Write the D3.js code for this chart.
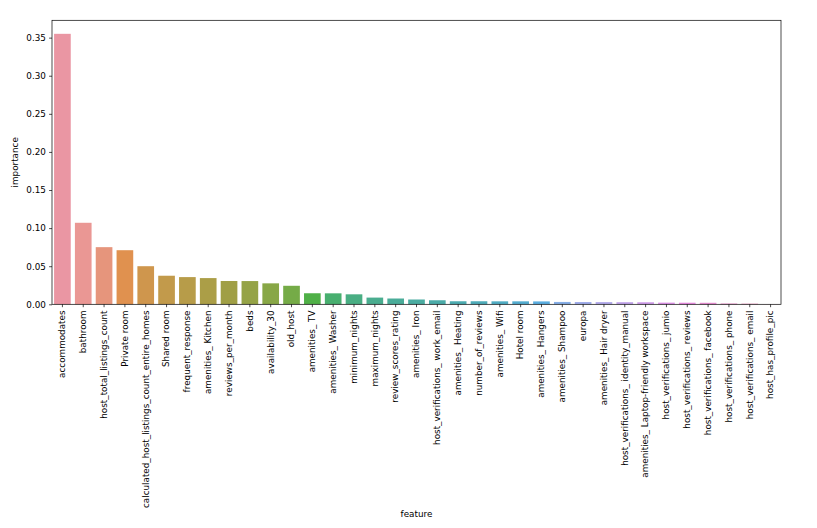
<!DOCTYPE html>
<html>
<head>
<meta charset="utf-8">
<script src="https://d3js.org/d3.v7.min.js"></script>
<style>
    body { margin: 0; background: white; }
    text { font-family: "DejaVu Sans", sans-serif; fill: #000; }
</style>
</head>
<body>
<script>
"use strict";

var features = [
    "accommodates", "bathroom", "host_total_listings_count", "Private room",
    "calculated_host_listings_count_entire_homes", "Shared room", "frequent_response",
    "amenities_ Kitchen", "reviews_per_month", "beds", "availability_30", "old_host",
    "amenities_ TV", "amenities_ Washer", "minimum_nights", "maximum_nights",
    "review_scores_rating", "amenities_ Iron", "host_verifications_ work_email",
    "amenities_ Heating", "number_of_reviews", "amenities_ Wifi", "Hotel room",
    "amenities_ Hangers", "amenities_ Shampoo", "europa", "amenities_ Hair dryer",
    "host_verifications_ identity_manual", "amenities_ Laptop-friendly workspace",
    "host_verifications_ jumio", "host_verifications_ reviews",
    "host_verifications_ facebook", "host_verifications_ phone",
    "host_verifications_ email", "host_has_profile_pic"
];

var importance = [
    0.355, 0.107, 0.075, 0.071, 0.050, 0.0375, 0.0357, 0.0344, 0.0306, 0.0305,
    0.0275, 0.0243, 0.0145, 0.0144, 0.0131, 0.0088, 0.0076, 0.0063, 0.0053,
    0.0040, 0.0040, 0.0039, 0.0039, 0.0038, 0.0031, 0.0030, 0.0029, 0.0028,
    0.0027, 0.0022, 0.0021, 0.0020, 0.0011, 0.0009, 0.0001
];

var yTicks = [0, 0.05, 0.10, 0.15, 0.20, 0.25, 0.30, 0.35];

var widthEcran = 817;
var heightEcran = 528;
var margin = {left: 52, right: 36, top: 20.3, bottom: 223.7};
var fontSize = "8.8px";

// husl (old husl package, as used by seaborn) -> rgb
var M = [
    [3.2406, -1.5372, -0.4986],
    [-0.9689, 1.8758, 0.0415],
    [0.0557, -0.2040, 1.0570]
];

function maxChroma(L, H) {
    var hrad = H * Math.PI / 180;
    var sinH = Math.sin(hrad);
    var cosH = Math.cos(hrad);
    var sub1 = Math.pow(L + 16, 3) / 1560896.0;
    var sub2 = sub1 > 0.008856 ? sub1 : L / 903.3;
    var result = Infinity;
    M.forEach(function (row) {
        var top = (0.99915 * row[0] + 1.05122 * row[1] + 1.14460 * row[2]) * sub2;
        var rbottom = 0.86330 * row[2] - 0.17266 * row[1];
        var lbottom = 0.12949 * row[2] - 0.38848 * row[0];
        var bottom = (rbottom * sinH + lbottom * cosH) * sub2;
        [0, 1].forEach(function (t) {
            var C = L * (top - 1.05122 * t) / (bottom + 0.17266 * sinH * t);
            if (C > 0 && C < result) result = C;
        });
    });
    return result;
}

function huslToRgb(H, S, L) {
    var C = maxChroma(L, H) / 100 * S;
    var hrad = H * Math.PI / 180;
    var U = Math.cos(hrad) * C;
    var V = Math.sin(hrad) * C;
    var t = (L + 16) / 116;
    var Y = Math.pow(t, 3) > 0.008856 ? Math.pow(t, 3) : (116 * t - 16) / 903.3;
    var varU = U / (13 * L) + 0.19784;
    var varV = V / (13 * L) + 0.46834;
    var X = -(9 * Y * varU) / ((varU - 4) * varV - varU * varV);
    var Z = (9 * Y - 15 * varV * Y - varV * X) / (3 * varV);
    var rgb = M.map(function (row) {
        var c = row[0] * X + row[1] * Y + row[2] * Z;
        c = c <= 0.0031308 ? 12.92 * c : 1.055 * Math.pow(c, 1 / 2.4) - 0.055;
        return Math.max(0, Math.min(1, c)) * 255;
    });
    return d3.rgb(rgb[0], rgb[1], rgb[2]);
}

function paletteSeaborn(n) {
    var colors = [];
    for (var i = 0; i < n; i++) {
        var h = ((i / n) + 0.01) % 1 * 359;
        var c = d3.hsl(huslToRgb(h, 0.9 * 99, 0.7 * 99));
        c.s = c.s * 0.75;
        colors.push(c.formatHex());
    }
    return colors;
}

function baseCanvas(widthEcran, heightEcran) {
    var canvas = d3.select("body")
        .append("svg")
        .attr("width", widthEcran)
        .attr("height", heightEcran);
    return (canvas);
}

var canvas = baseCanvas(widthEcran, heightEcran);
var plotW = widthEcran - margin.left - margin.right;
var plotH = heightEcran - margin.top - margin.bottom;
var colors = paletteSeaborn(features.length);

var x = d3.scaleBand()
    .domain(features)
    .range([margin.left, margin.left + plotW])
    .paddingInner(0.2)
    .paddingOuter(0.1);

var y = d3.scaleLinear()
    .domain([0, d3.max(importance) * 1.05])
    .range([margin.top + plotH, margin.top]);

canvas.append("g")
    .selectAll("rect")
    .data(features)
    .enter()
    .append("rect")
    .attr("x", function (d) { return x(d); })
    .attr("y", function (d, i) { return y(importance[i]); })
    .attr("width", x.bandwidth())
    .attr("height", function (d, i) { return y(0) - y(importance[i]); })
    .attr("fill", function (d, i) { return colors[i]; });

// axes
canvas.append("g")
    .attr("transform", "translate(" + margin.left + ",0)")
    .call(d3.axisLeft(y).tickValues(yTicks).tickFormat(d3.format(".2f"))
        .tickSizeInner(2.9).tickSizeOuter(0).tickPadding(3.2));

var xAxis = canvas.append("g")
    .attr("transform", "translate(0," + (margin.top + plotH) + ")")
    .call(d3.axisBottom(x).tickSizeInner(2.9).tickSizeOuter(0).tickPadding(2.9));

xAxis.selectAll("text")
    .attr("transform", "rotate(-90)")
    .attr("text-anchor", "end")
    .attr("x", -6.2)
    .attr("y", 0)
    .attr("dy", "0.32em");

canvas.selectAll(".tick text")
    .attr("font-size", fontSize)
    .attr("font-family", "DejaVu Sans")
    .attr("fill", "#000");
canvas.selectAll(".tick line").attr("stroke", "#000").attr("stroke-width", 0.7);
canvas.selectAll(".domain").remove();

// frame
canvas.append("rect")
    .attr("x", margin.left)
    .attr("y", margin.top)
    .attr("width", plotW)
    .attr("height", plotH)
    .attr("fill", "none")
    .attr("stroke", "#000")
    .attr("stroke-width", 0.7);

canvas.append("text")
    .attr("font-size", fontSize)
    .attr("text-anchor", "middle")
    .attr("transform", "translate(18," + (margin.top + plotH / 2) + ") rotate(-90)")
    .text("importance");

canvas.append("text")
    .attr("font-size", fontSize)
    .attr("text-anchor", "middle")
    .attr("x", margin.left + plotW / 2)
    .attr("y", 517)
    .text("feature");
</script>
</body>
</html>
